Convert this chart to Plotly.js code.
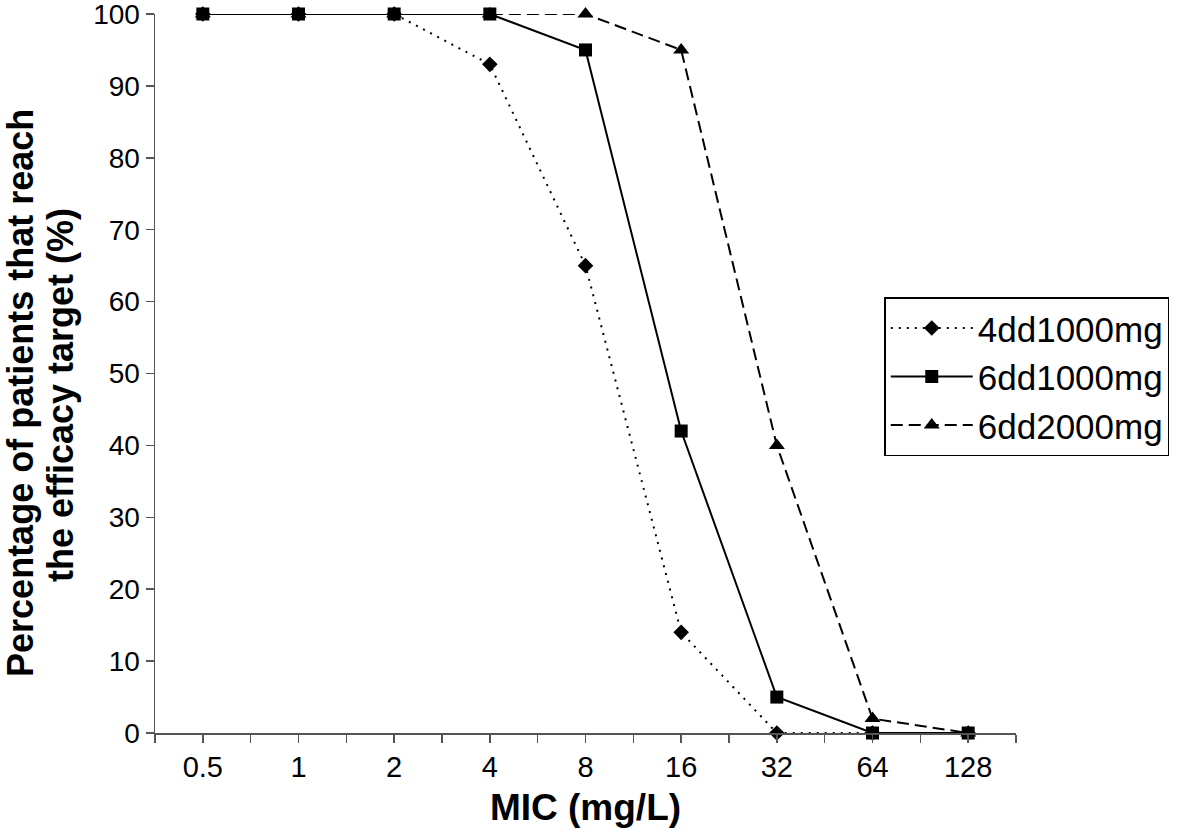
<!DOCTYPE html>
<html>
<head>
<meta charset="utf-8">
<script src="https://cdn.plot.ly/plotly-3.0.1.min.js"></script>
<style>html,body{margin:0;padding:0;background:#fff;}#chart{width:1200px;height:834px;}</style>
</head>
<body>
<div id="chart"></div>
<script>
var categories = ["0.5", "1", "2", "4", "8", "16", "32", "64", "128"];
var s4dd1000 = [100, 100, 100, 93, 65, 14, 0, 0, 0];
var s6dd1000 = [100, 100, 100, 100, 95, 42, 5, 0, 0];
var s6dd2000 = [100, 100, 100, 100, 100, 95, 40, 2, 0];
var seriesNames = ["4dd1000mg", "6dd1000mg", "6dd2000mg"];
var yTicks = [0, 10, 20, 30, 40, 50, 60, 70, 80, 90, 100];
var yTitleLines = ["Percentage of patients that reach", "the efficacy target (%)"];

var idx = categories.map(function (c, i) { return i; });
var bounds = categories.map(function (c, i) { return i - 0.5; }).concat([categories.length - 0.5]);
var FONT = "Liberation Sans, Arial, Helvetica, sans-serif";

var traces = [
  {x: idx, y: s4dd1000, name: seriesNames[0], mode: "lines+markers", legendgroup: "a",
   line: {color: "#000", width: 2, dash: "2px,6px"}, marker: {symbol: "diamond", size: 12, color: "#000"}, cliponaxis: false},
  {x: idx, y: s6dd1000, name: seriesNames[1], mode: "lines+markers", legendgroup: "b",
   line: {color: "#000", width: 2}, marker: {symbol: "square", size: 13, color: "#000"}, cliponaxis: false},
  {x: idx, y: s6dd2000, name: seriesNames[2], mode: "lines+markers", legendgroup: "c",
   line: {color: "#000", width: 2, dash: "12px,6px"}, marker: {symbol: "triangle-up", size: 14, color: "#000"}, cliponaxis: false}
];

var layout = {
  width: 1200, height: 834,
  margin: {l: 155, r: 184, t: 14, b: 101},
  paper_bgcolor: "#fff", plot_bgcolor: "#fff",
  font: {family: FONT, color: "#000"},
  showlegend: true,
  legend: {x: 0.847, y: 0.606, xanchor: "left", yanchor: "top",
    bordercolor: "#000", borderwidth: 1.5, bgcolor: "#fff",
    font: {family: FONT, size: 35, color: "#000"}, traceorder: "grouped", tracegroupgap: 0,
    itemwidth: 82, entrywidth: 215},
  xaxis: {
    range: [-0.5, categories.length - 0.5], tickmode: "array", tickvals: idx, ticktext: categories,
    showgrid: false, zeroline: false, showline: true, linecolor: "#555", linewidth: 1.5,
    ticks: "outside", ticklen: 8, tickwidth: 1.5, tickcolor: "#555",
    minor: {tickmode: "array", tickvals: bounds, ticks: "outside", ticklen: 8, tickwidth: 1.5, tickcolor: "#555", showgrid: false},
    tickfont: {family: FONT, size: 29, color: "#000"},
    title: {text: "<b>MIC (mg/L)</b>", font: {family: FONT, size: 37, color: "#000"}, standoff: 12},
    fixedrange: true
  },
  xaxis2: {
    overlaying: "x", anchor: "y", side: "bottom",
    range: [-0.5, categories.length - 0.5], tickmode: "array", tickvals: idx,
    showgrid: false, zeroline: false, showline: false, showticklabels: false,
    ticks: "inside", ticklen: 7, tickwidth: 1.5, tickcolor: "#555",
    minor: {tickmode: "array", tickvals: bounds, ticks: "inside", ticklen: 7, tickwidth: 1.5, tickcolor: "#555", showgrid: false}
  },
  yaxis: {
    range: [0, 100.0001], tickmode: "array", tickvals: yTicks, ticklabeloverflow: "allow",
    showgrid: false, zeroline: false, showline: true, linecolor: "#555", linewidth: 1.5,
    ticks: "outside", ticklen: 8, tickwidth: 1.5, tickcolor: "#555",
    tickfont: {family: FONT, size: 28, color: "#000"},
    fixedrange: true
  },
  annotations: [
    {xref: "paper", yref: "paper", x: -0.1556, y: 0.473, xanchor: "center", yanchor: "middle",
     textangle: -90, showarrow: false, text: "<b>" + yTitleLines[0] + "</b>",
     font: {family: FONT, size: 36, color: "#000"}},
    {xref: "paper", yref: "paper", x: -0.1103, y: 0.470, xanchor: "center", yanchor: "middle",
     textangle: -90, showarrow: false, text: "<b>" + yTitleLines[1] + "</b>",
     font: {family: FONT, size: 36, color: "#000"}}
  ]
};

Plotly.newPlot("chart", traces, layout, {displayModeBar: false, staticPlot: true});
</script>
</body>
</html>
